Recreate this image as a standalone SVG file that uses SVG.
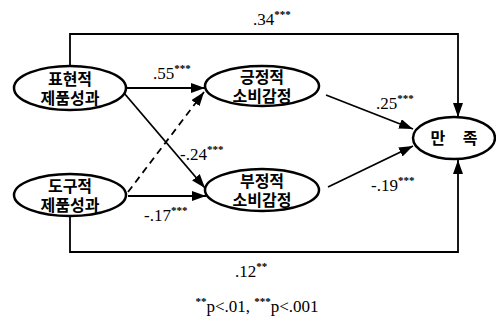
<svg xmlns="http://www.w3.org/2000/svg" width="496" height="327" viewBox="0 0 496 327">
<defs>
<marker id="ah" markerUnits="userSpaceOnUse" markerWidth="15" markerHeight="11" refX="14" refY="5" orient="auto">
<path d="M0,0 L14,5 L0,10 z" fill="#000"/>
</marker>
</defs>
<style>
.node ellipse{fill:#fff;stroke:#000;stroke-width:2.5}
.kr{font-family:"Noto Sans CJK KR","Noto Sans",sans-serif;font-size:16px;font-weight:bold;text-anchor:middle;fill:#000}
.num{font-family:"Liberation Serif",serif;font-size:17px;fill:#000}
.sup{font-size:11px;font-weight:bold}
.c{fill:none;stroke:#000;stroke-width:1.8}
.arr{marker-end:url(#ah)}
.dash{stroke-dasharray:7,5}
</style>
<rect width="496" height="327" fill="#fff"/>
<g id="connectors">
<path class="c arr" d="M70,66 V34 H458 V117"/>
<path class="c arr" d="M70,216 V252 H458 V160"/>
<path class="c arr" d="M126,88 H205"/>
<path class="c arr" d="M124,93 L205,188"/>
<path class="c arr dash" d="M128,192 L204,92"/>
<path class="c arr" d="M128,196 H206"/>
<path class="c arr" d="M326,95 L413,129"/>
<path class="c arr" d="M328,187 L413,146"/>
</g>
<g id="labels">
<text class="num" x="253" y="25">.34<tspan class="sup" dy="-7">***</tspan></text>
<text class="num" x="153" y="79">.55<tspan class="sup" dy="-7">***</tspan></text>
<text class="num" x="376" y="109">.25<tspan class="sup" dy="-7">***</tspan></text>
<text class="num" x="180" y="160">-.24<tspan class="sup" dy="-7">***</tspan></text>
<text class="num" x="371" y="191">-.19<tspan class="sup" dy="-7">***</tspan></text>
<text class="num" x="144" y="221">-.17<tspan class="sup" dy="-7">***</tspan></text>
<text class="num" x="235" y="277">.12<tspan class="sup" dy="-7">**</tspan></text>
<text class="num" x="257" y="312" text-anchor="middle"><tspan class="sup" dy="-7">**</tspan><tspan dy="7">p&lt;.01, </tspan><tspan class="sup" dy="-7">***</tspan><tspan dy="7">p&lt;.001</tspan></text>
</g>
<g id="n1" class="node">
<ellipse cx="70" cy="88" rx="56" ry="22"/>
<text class="kr" x="70" y="85">표현적<tspan x="70" dy="19">제품성과</tspan></text>
</g>
<g id="n2" class="node">
<ellipse cx="70" cy="195" rx="56" ry="21"/>
<text class="kr" x="70" y="192">도구적<tspan x="70" dy="19">제품성과</tspan></text>
</g>
<g id="n3" class="node">
<ellipse cx="262" cy="86" rx="57" ry="20"/>
<text class="kr" x="262" y="83">긍정적<tspan x="262" dy="19">소비감정</tspan></text>
</g>
<g id="n4" class="node">
<ellipse cx="262" cy="190" rx="57" ry="21"/>
<text class="kr" x="262" y="187">부정적<tspan x="262" dy="19">소비감정</tspan></text>
</g>
<g id="n5" class="node">
<ellipse cx="454" cy="138" rx="41" ry="21"/>
<text class="kr" x="454" y="144" word-spacing="14">만 족</text>
</g>
</svg>
